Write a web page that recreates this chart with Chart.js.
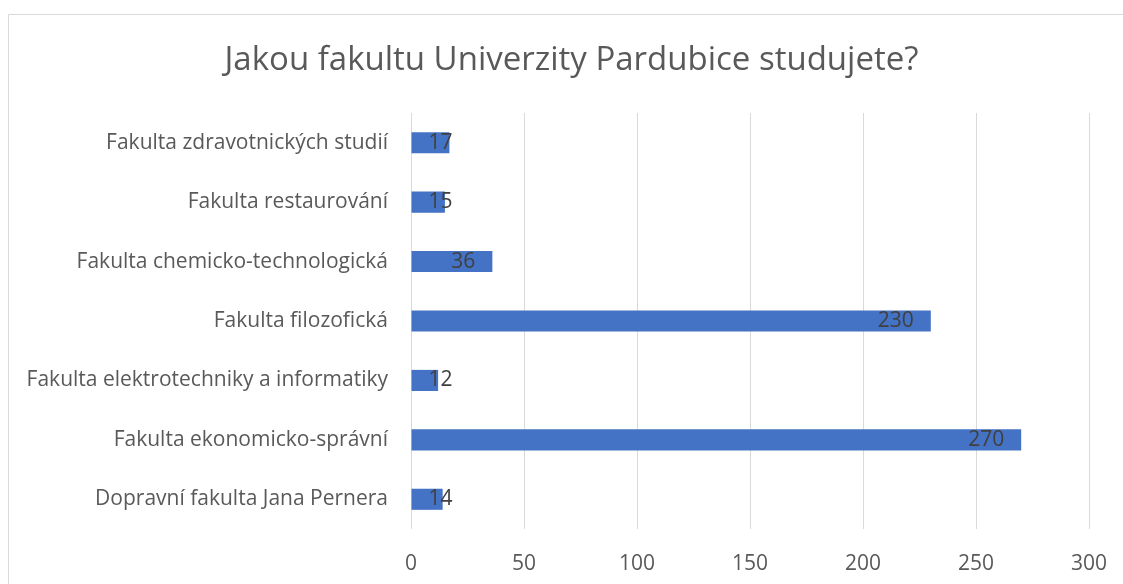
<!DOCTYPE html>
<html>
<head>
<meta charset="utf-8">
<script src="https://cdn.jsdelivr.net/npm/chart.js@4.4.1/dist/chart.umd.min.js"></script>
<style>
  body { margin: 0; background: #fff; }
</style>
</head>
<body>
<canvas id="myChart" width="1123" height="584"></canvas>
<script>
const chartTitle = 'Jakou fakultu Univerzity Pardubice studujete?';
const faculties = [
    'Fakulta zdravotnických studií',
    'Fakulta restaurování',
    'Fakulta chemicko-technologická',
    'Fakulta filozofická',
    'Fakulta elektrotechniky a informatiky',
    'Fakulta ekonomicko-správní',
    'Dopravní fakulta Jana Pernera'
];
const students = [17, 15, 36, 230, 12, 270, 14];
const xTicks = [0, 50, 100, 150, 200, 250, 300];

const fontFamily = "'Open Sans', sans-serif";
Chart.defaults.font.family = fontFamily;

// frame around the whole chart + the title (centred on the Excel chart area, not the plot)
const frameAndTitle = {
    id: 'frameAndTitle',
    beforeDraw(chart) {
        const c = chart.ctx;
        c.save();
        c.strokeStyle = '#d9d9d9';
        c.lineWidth = 1;
        c.beginPath();
        c.moveTo(8.5, 600);
        c.lineTo(8.5, 14.5);
        c.lineTo(1200, 14.5);
        c.stroke();

        c.font = '33px ' + fontFamily;
        c.fillStyle = '#595959';
        c.textAlign = 'center';
        c.textBaseline = 'alphabetic';
        c.fillText(chartTitle, 571.5, 70);
        c.restore();
    }
};

// value labels at the inside end of each bar
const valueLabels = {
    id: 'valueLabels',
    afterDatasetsDraw(chart) {
        const c = chart.ctx;
        const meta = chart.getDatasetMeta(0);
        c.save();
        c.font = '21px ' + fontFamily;
        c.fillStyle = '#404040';
        c.textAlign = 'right';
        c.textBaseline = 'middle';
        meta.data.forEach((bar, i) => {
            const text = String(students[i]);
            const w = c.measureText(text).width;
            const right = Math.max(bar.x - 17, bar.base + 17 + w);
            c.fillText(text, right, bar.y);
        });
        c.restore();
    }
};

new Chart(document.getElementById('myChart'), {
    type: 'bar',
    data: {
        labels: faculties,
        datasets: [{
            data: students,
            backgroundColor: '#4472C4',
            categoryPercentage: 1,
            barPercentage: 0.355
        }]
    },
    options: {
        indexAxis: 'y',
        responsive: false,
        animation: false,
        layout: { padding: { left: 0, right: 34, top: 113, bottom: 0 } },
        plugins: {
            legend: { display: false },
            tooltip: { enabled: false },
            title: { display: false }
        },
        scales: {
            x: {
                min: 0,
                max: 300,
                afterBuildTicks: (scale) => { scale.ticks = xTicks.map(v => ({ value: v })); },
                afterFit: (scale) => {
                    scale.height = 55;
                    scale.paddingLeft = 0;
                    scale.paddingRight = 0;
                },
                grid: { color: '#d9d9d9', drawTicks: false },
                border: { display: false },
                ticks: { color: '#595959', font: { size: 21 }, padding: 22 }
            },
            y: {
                afterFit: (scale) => { scale.width = 411; },
                grid: { display: false, drawTicks: false },
                border: { display: false },
                ticks: { color: '#595959', font: { size: 21 }, padding: 23 }
            }
        }
    },
    plugins: [frameAndTitle, valueLabels]
});
</script>
</body>
</html>
